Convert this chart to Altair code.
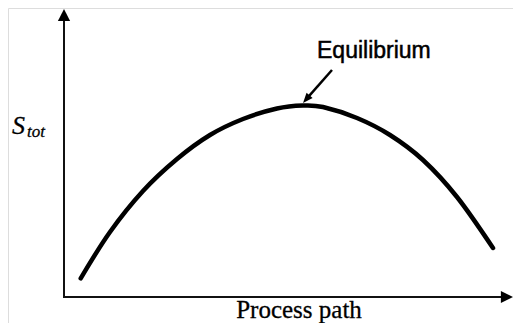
import altair as alt
import pandas as pd

# Curve (arbitrary units: process path vs total entropy)
path_x = [16.7, 46, 79, 113, 146, 179, 213, 239, 259, 293, 326, 359, 393, 429]
s_tot = [18.7, 65, 106, 138, 162, 178, 188.5, 191.5, 190, 179, 162, 137, 100, 49]

# Axis extents (data units)
x_axis_end = 443
y_axis_end = 282

# Annotation
label_text = ["Equilibrium"]
label_pos = [253, 239]
arrow_start = [268, 227]
arrow_head = [242.3, 197.8]
arrow_angle = 221

X_DOMAIN = [-56, 449]
Y_DOMAIN = [-26, 289]

xs = alt.Scale(domain=X_DOMAIN, nice=False, zero=False)
ys = alt.Scale(domain=Y_DOMAIN, nice=False, zero=False)

curve_df = pd.DataFrame({"x": path_x, "y": s_tot})
curve = alt.Chart(curve_df).mark_line(
    color="#000", strokeWidth=4.5, interpolate="cardinal", strokeCap="round"
).encode(
    x=alt.X("x:Q", scale=xs, axis=None),
    y=alt.Y("y:Q", scale=ys, axis=None),
)

axes_df = pd.DataFrame({
    "x": [0, -1], "x2": [0, x_axis_end], "y": [0, 0], "y2": [y_axis_end, 0]
})
axes = alt.Chart(axes_df).mark_rule(color="#111", strokeWidth=2).encode(
    x=alt.X("x:Q", scale=xs, axis=None), x2="x2:Q",
    y=alt.Y("y:Q", scale=ys, axis=None), y2="y2:Q",
)

heads_df = pd.DataFrame({"x": [0, x_axis_end], "y": [y_axis_end, 0], "a": [0, 90]})
heads = alt.Chart(heads_df).mark_point(
    shape="M0,-1L-1,1L1,1Z", filled=True, color="#000", opacity=1, size=150
).encode(
    x=alt.X("x:Q", scale=xs, axis=None),
    y=alt.Y("y:Q", scale=ys, axis=None),
    angle=alt.Angle("a:Q", scale=None),
)

ann_df = pd.DataFrame({"x": [arrow_start[0]], "y": [arrow_start[1]],
                       "x2": [arrow_head[0]], "y2": [arrow_head[1]]})
ann_line = alt.Chart(ann_df).mark_rule(color="#000", strokeWidth=2.5).encode(
    x=alt.X("x:Q", scale=xs, axis=None), x2="x2:Q",
    y=alt.Y("y:Q", scale=ys, axis=None), y2="y2:Q",
)
ann_head_df = pd.DataFrame({"x": [arrow_head[0]], "y": [arrow_head[1]], "a": [arrow_angle]})
ann_head = alt.Chart(ann_head_df).mark_point(
    shape="M0,-1L-0.8,1L0.8,1Z", filled=True, color="#000", opacity=1, size=100
).encode(
    x=alt.X("x:Q", scale=xs, axis=None),
    y=alt.Y("y:Q", scale=ys, axis=None),
    angle=alt.Angle("a:Q", scale=None),
)

label_df = pd.DataFrame({"x": [label_pos[0]], "y": [label_pos[1]], "t": label_text})
label = alt.Chart(label_df).mark_text(
    font="Liberation Sans", fontSize=23, align="left", baseline="alphabetic",
    color="#000", stroke="#000", strokeWidth=0.5
).encode(
    x=alt.X("x:Q", scale=xs, axis=None),
    y=alt.Y("y:Q", scale=ys, axis=None),
    text="t:N",
)

xt_df = pd.DataFrame({"x": [235], "y": [-21], "t": ["Process path"]})
xtitle = alt.Chart(xt_df).mark_text(
    font="Liberation Serif", fontSize=25, align="center", baseline="alphabetic",
    color="#000", stroke="#000", strokeWidth=0.3
).encode(
    x=alt.X("x:Q", scale=xs, axis=None),
    y=alt.Y("y:Q", scale=ys, axis=None),
    text="t:N",
)

s_df = pd.DataFrame({"x": [-52], "y": [163], "t": ["S"]})
s_main = alt.Chart(s_df).mark_text(
    font="Liberation Serif", fontSize=26, fontStyle="italic", align="left",
    baseline="alphabetic", color="#000", stroke="#000", strokeWidth=0.3
).encode(
    x=alt.X("x:Q", scale=xs, axis=None),
    y=alt.Y("y:Q", scale=ys, axis=None),
    text="t:N",
)
sub_df = pd.DataFrame({"x": [-37], "y": [160], "t": ["tot"]})
s_sub = alt.Chart(sub_df).mark_text(
    font="Liberation Serif", fontSize=17, fontStyle="italic", align="left",
    baseline="alphabetic", color="#000", stroke="#000", strokeWidth=0.3
).encode(
    x=alt.X("x:Q", scale=xs, axis=None),
    y=alt.Y("y:Q", scale=ys, axis=None),
    text="t:N",
)

chart = alt.layer(
    axes, heads, curve, ann_line, ann_head, label, xtitle, s_main, s_sub
).properties(
    width=505, height=315,
    autosize=alt.AutoSizeParams(type="none"),
    padding=0,
).configure_view(stroke=None).configure(background="white")

chart.save("out.html", embed_options={"renderer": "svg", "actions": False})
